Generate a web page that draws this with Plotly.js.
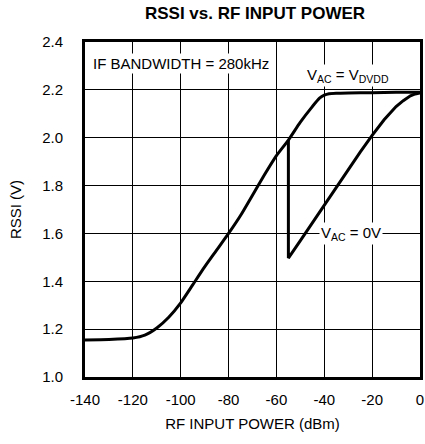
<!DOCTYPE html>
<html><head><meta charset="utf-8">
<script src="https://cdn.plot.ly/plotly-3.0.1.min.js"></script>
<style>html,body{margin:0;padding:0;background:#fff}#c{width:425px;height:444px}</style>
</head><body><div id="c"></div>
<script>
// V_AC = V_DVDD curve
const xA = [-140,-130,-120,-115,-110,-105,-100,-95,-90,-85,-80,-75,-70,-65,-60,-55,-50,-45,-42,-40,-38,-35,-30,-20,-10,0];
const yA = [1.155,1.157,1.163,1.175,1.205,1.25,1.31,1.385,1.46,1.53,1.6,1.675,1.76,1.845,1.925,1.99,2.065,2.13,2.165,2.178,2.184,2.186,2.187,2.188,2.19,2.19];
// V_AC = 0V curve (departs from the first curve at -55 dBm)
const xB = [-55,-55,-50,-45,-40,-35,-30,-25,-20,-15,-10,-7,-4,-2,0];
const yB = [1.99,1.497,1.57,1.645,1.72,1.795,1.87,1.94,2.01,2.075,2.13,2.155,2.175,2.183,2.187];
const xTicks = [-140,-120,-100,-80,-60,-40,-20,0];
const yTicks = [1.0,1.2,1.4,1.6,1.8,2.0,2.2,2.4];

const font = "Liberation Sans, Arial, sans-serif";
const fs = 15;
const data = [
  {x:xA, y:yA, mode:'lines', line:{color:'#000', width:3, shape:'spline', smoothing:0.6}, hoverinfo:'skip'},
  {x:xB, y:yB, mode:'lines', line:{color:'#000', width:3}, hoverinfo:'skip'}
];
const layout = {
  width:425, height:444,
  margin:{l:84.5, r:5, t:42, b:67},
  paper_bgcolor:'#fff', plot_bgcolor:'#fff',
  showlegend:false,
  font:{family:font, size:fs, color:'#000'},
  title:{text:'<b>RSSI vs. RF INPUT POWER</b>', x:0.6, xanchor:'center', y:0.985, yanchor:'top', font:{family:font, size:17, color:'#000'}},
  xaxis:{range:[-140,0], tickvals:xTicks, ticktext:xTicks.map(String), showgrid:true, gridcolor:'#000', gridwidth:1,
    zeroline:false, showline:true, linecolor:'#000', linewidth:3, mirror:true, ticks:'', ticklen:0, ticklabelstandoff:7,
    tickfont:{family:font, size:fs}, title:{text:'RF INPUT POWER (dBm)', font:{family:font, size:fs}, standoff:12}},
  yaxis:{range:[1.0,2.4], tickvals:yTicks, ticktext:yTicks.map(v=>v.toFixed(1)), showgrid:true, gridcolor:'#000', gridwidth:1,
    zeroline:false, showline:true, linecolor:'#000', linewidth:3, mirror:true, ticks:'', ticklen:0, ticklabelstandoff:16,
    tickfont:{family:font, size:fs}, title:{text:'RSSI (V)', font:{family:font, size:fs}, standoff:17}},
  annotations:[
    {x:-137.5, y:2.31, xref:'x', yref:'y', text:'IF BANDWIDTH = 280kHz', showarrow:false, xanchor:'left', yanchor:'middle', bgcolor:'#fff', font:{family:font, size:fs}},
    {x:-30, y:2.262, xref:'x', yref:'y', text:'V<sub>AC</sub> = V<sub>DVDD</sub>', showarrow:false, xanchor:'center', yanchor:'middle', bgcolor:'#fff', font:{family:font, size:fs}},
    {x:-28.8, y:1.6, xref:'x', yref:'y', text:'V<sub>AC</sub> = 0V', showarrow:false, xanchor:'center', yanchor:'middle', bgcolor:'#fff', font:{family:font, size:fs}}
  ]
};
Plotly.newPlot('c', data, layout, {displayModeBar:false, staticPlot:true});
</script></body></html>
